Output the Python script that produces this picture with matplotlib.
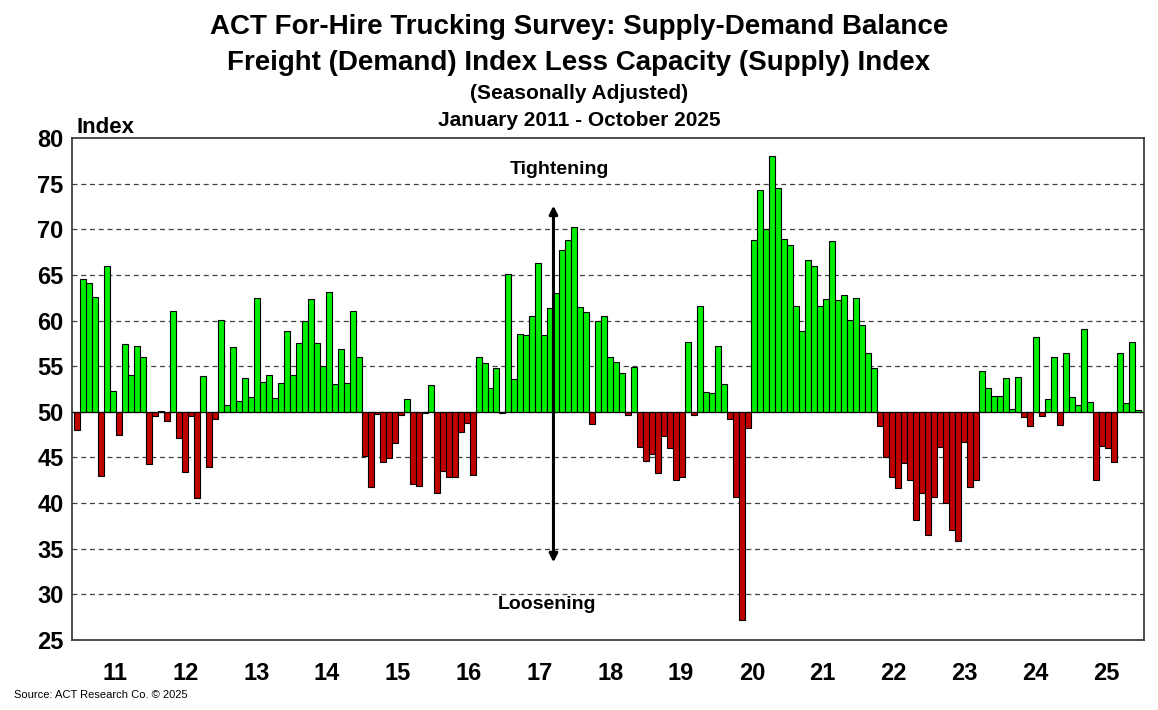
import numpy as np
import matplotlib.pyplot as plt

plt.rcParams['font.family'] = ['Liberation Sans', 'DejaVu Sans']

# monthly values, Jan 2011 - Oct 2025
vals_2011_2020 = [
    48.0, 64.5, 64.1, 62.6, 43.0, 66.0, 52.3, 47.5, 57.4, 54.0, 57.2, 56.0,
    44.3, 49.5, 50.1, 49.0, 61.0, 47.1, 43.4, 49.5, 40.6, 53.9, 44.0, 49.2,
    60.1, 50.7, 57.1, 51.2, 53.7, 51.6, 62.5, 53.3, 54.0, 51.5, 53.2, 58.9,
    54.0, 57.5, 60.0, 62.4, 57.5, 55.0, 63.1, 53.0, 56.9, 53.2, 61.1, 56.0,
    45.2, 41.8, 49.8, 44.5, 44.9, 46.6, 49.7, 51.4, 42.1, 41.9, 49.9, 52.9,
    41.1, 43.5, 42.9, 42.9, 47.8, 48.8, 43.1, 56.0, 55.3, 52.6, 54.8, 49.9,
    65.1, 53.6, 58.5, 58.4, 60.5, 66.3, 58.4, 61.4, 63.0, 67.7, 68.8, 70.2,
    61.5, 60.9, 48.7, 60.0, 60.5, 56.0, 55.5, 54.2, 49.7, 54.9, 46.2, 44.6,
    45.4, 43.3, 47.4, 46.0, 42.5, 42.9, 57.6, 49.7, 61.6, 52.2, 52.1, 57.2,
    53.0, 49.2, 40.7, 27.2, 48.2, 68.8, 74.3, 70.0, 78.0, 74.5, 68.9, 68.3,
]
vals_2021_2025 = [
    61.6, 58.9, 66.6, 66.0, 61.6, 62.4, 68.7, 62.3, 62.8, 60.1, 62.5, 59.5,
    56.5, 54.8,
    48.4, 45.0, 42.9, 41.6, 44.4, 42.5, 38.2, 41.1, 36.5, 40.7, 46.2, 40.0,
    37.0, 35.9, 46.7, 41.8, 42.5,
    54.5, 52.6, 51.7, 51.7, 53.7, 50.3, 53.8, 49.4, 48.4, 58.2, 49.5, 51.4,
    56.0, 48.6, 56.4, 51.6, 50.8, 59.1, 51.1, 42.5, 46.3, 46.0, 44.5, 56.4,
    51.0, 57.7, 50.2,
]
values = np.array(vals_2011_2020 + vals_2021_2025)
year_labels = ['11', '12', '13', '14', '15', '16', '17', '18', '19', '20',
               '21', '22', '23', '24', '25']

fig = plt.figure(figsize=(11.58, 7.10), dpi=100)
ax = fig.add_axes([0.0622, 0.0986, 0.9257, 0.707])

x = np.arange(len(values))
colors = np.where(values >= 50, '#00EE00', '#C00000')
ax.bar(x, values - 50, bottom=50, width=1.0, color=colors,
       edgecolor='black', linewidth=0.8, zorder=3)

ax.set_xlim(-0.8, 178.0)
ax.set_ylim(25, 80)
ax.set_yticks(range(25, 81, 5))
for yv in range(30, 80, 5):
    ax.axhline(yv, color='#404040', linestyle=(0, (4, 3)), linewidth=0.9, zorder=1)
ax.axhline(50, color='black', linewidth=0.8, zorder=4)

ax.set_xticks([12 * i + 6.3 - 0.19 * i for i in range(len(year_labels))])
ax.set_xticklabels(year_labels)
ax.tick_params(axis='both', length=0, labelsize=17)
ax.tick_params(axis='x', pad=16)
ax.tick_params(axis='y', pad=6)
for lab in ax.get_xticklabels() + ax.get_yticklabels():
    lab.set_fontweight('bold')
for sp in ax.spines.values():
    sp.set_linewidth(1.2)
    sp.set_color('#303030')

ax.annotate('', xy=(79.5, 72.9), xytext=(79.5, 33.2),
            arrowprops=dict(arrowstyle='<|-|>', color='black', lw=2.2,
                            mutation_scale=12), zorder=5)
ax.text(80.5, 76.6, 'Tightening', ha='center', va='center', fontsize=14, fontweight='bold')
ax.text(78.5, 28.9, 'Loosening', ha='center', va='center', fontsize=14, fontweight='bold')

fig.text(0.066, 0.821, 'Index', fontsize=16, fontweight='bold', va='center')
fig.text(0.5, 0.962, 'ACT For-Hire Trucking Survey: Supply-Demand Balance',
         ha='center', va='center', fontsize=20, fontweight='bold')
fig.text(0.5, 0.911, 'Freight (Demand) Index Less Capacity (Supply) Index',
         ha='center', va='center', fontsize=20, fontweight='bold')
fig.text(0.5, 0.868, '(Seasonally Adjusted)', ha='center', va='center',
         fontsize=15, fontweight='bold')
fig.text(0.5, 0.830, 'January 2011 - October 2025', ha='center', va='center',
         fontsize=15, fontweight='bold')
fig.text(0.012, 0.021, 'Source: ACT Research Co. \u00a9 2025', fontsize=8, va='center')

fig.savefig('out.png', dpi=100)
